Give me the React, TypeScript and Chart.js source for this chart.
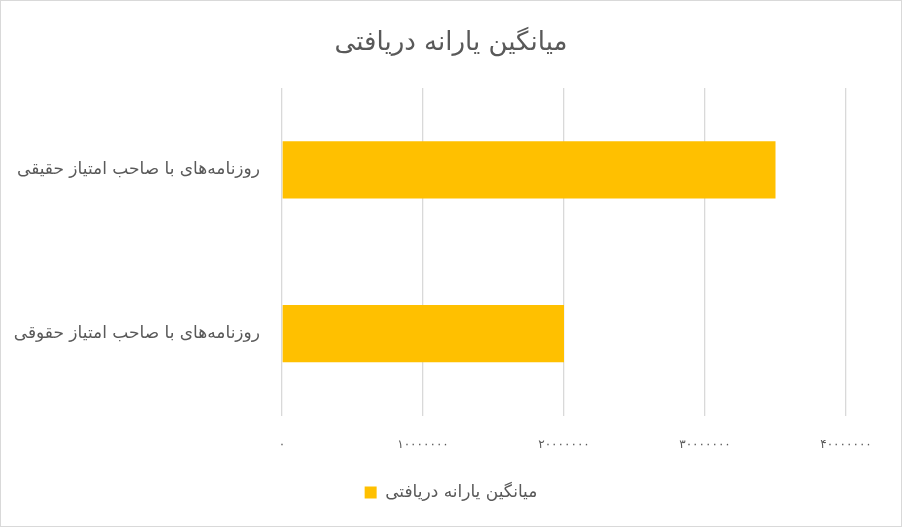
import React, { useEffect, useRef } from "react";
import { Chart, registerables } from "chart.js";

Chart.register(...registerables);

const chartTitle = "میانگین یارانه دریافتی";
const categories = [
  "روزنامه‌های با صاحب امتیاز حقیقی",
  "روزنامه‌های با صاحب امتیاز حقوقی",
];
const seriesName = "میانگین یارانه دریافتی";
const seriesValues = [35000000, 20000000];
const xTickValues = [0, 10000000, 20000000, 30000000, 40000000];
const xTickLabels = ["۰", "۱۰۰۰۰۰۰۰", "۲۰۰۰۰۰۰۰", "۳۰۰۰۰۰۰۰", "۴۰۰۰۰۰۰۰"];

const FONT = "'DejaVu Sans', sans-serif";
const TEXT = "#595959";

export default function App() {
  const ref = useRef<HTMLCanvasElement | null>(null);

  useEffect(() => {
    document.body.style.margin = "0";
    if (!ref.current) return;
    const chart = new Chart(ref.current, {
      type: "bar",
      data: {
        labels: categories,
        datasets: [
          {
            label: seriesName,
            data: seriesValues,
            backgroundColor: "#FFC000",
            borderWidth: 0,
            categoryPercentage: 1,
            barPercentage: 0.35,
          },
        ],
      },
      options: {
        indexAxis: "y",
        animation: false,
        responsive: false,
        maintainAspectRatio: false,
        layout: { padding: { left: 0, right: 0, top: 0, bottom: 15 } },
        plugins: {
          title: {
            display: true,
            text: chartTitle,
            color: TEXT,
            font: { family: FONT, size: 26, weight: "normal" },
            padding: { top: 27, bottom: 28.8 },
          },
          legend: {
            display: true,
            position: "bottom",
            labels: {
              color: TEXT,
              font: { family: FONT, size: 17 },
              boxWidth: 12,
              boxHeight: 12,
              padding: 9,
            },
          },
          tooltip: { enabled: false },
        },
        scales: {
          x: {
            min: 0,
            max: 40000000,
            afterBuildTicks: (scale: any) => {
              scale.ticks = xTickValues.map((v) => ({ value: v }));
            },
            afterFit: (scale: any) => {
              scale.paddingRight = 55;
            },
            ticks: {
              color: TEXT,
              font: { family: FONT, size: 12 },
              padding: 22.5,
              maxRotation: 0,
              autoSkip: false,
              callback: (_v: any, i: number) => xTickLabels[i],
            },
            grid: {
              color: "#D9D9D9",
              lineWidth: 1.3,
              drawTicks: false,
            },
            border: { display: false },
          },
          y: {
            afterFit: (scale: any) => {
              scale.width = 281;
            },
            ticks: {
              color: TEXT,
              font: { family: FONT, size: 17 },
              padding: 22,
            },
            grid: { display: false, drawTicks: false },
            border: { display: false },
          },
        },
      },
    });
    return () => chart.destroy();
  }, []);

  return (
    <div
      style={{
        width: 900,
        height: 525,
        border: "1px solid #D9D9D9",
        background: "#fff",
      }}
    >
      <canvas ref={ref} width={900} height={525} style={{ display: "block" }} />
    </div>
  );
}
